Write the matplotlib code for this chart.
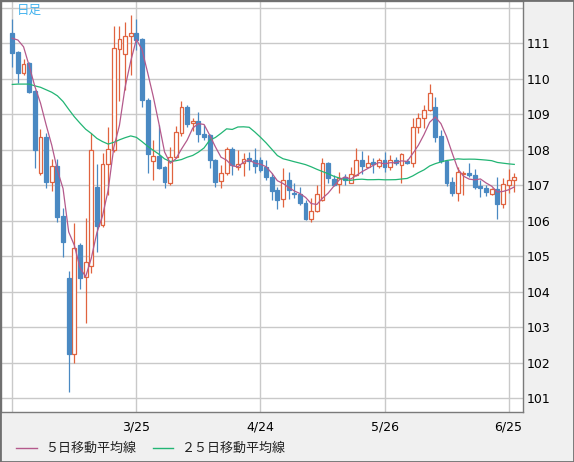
import matplotlib
matplotlib.use("Agg")
import matplotlib.pyplot as plt
import numpy as np
import pandas as pd
from matplotlib.lines import Line2D
from matplotlib.patches import Rectangle

# ---- data (daily candles, 2/24 .. 6/26) ----
opens = [111.28, 110.74, 110.17, 110.44, 109.66, 107.34, 108.37, 107.10, 107.54, 106.14,
         104.39, 102.26, 105.32, 104.41, 104.73, 106.95, 105.88, 107.60, 107.99, 110.83,
         110.69, 111.21, 111.28, 111.11, 109.40, 107.69, 107.83, 107.51, 107.06, 107.81,
         108.46, 109.20, 108.74, 108.81, 108.44, 108.42, 107.71, 107.13, 107.34, 108.01,
         107.52, 107.64, 107.76, 107.71, 107.70, 107.52, 107.23, 106.87, 106.61, 107.15,
         106.77, 106.75, 106.49, 106.04, 106.28, 106.59, 107.64, 107.17, 107.04, 107.23,
         107.07, 107.29, 107.71, 107.52, 107.66, 107.54, 107.71, 107.51, 107.71, 107.57,
         107.69, 107.62, 108.63, 108.89, 109.12, 109.20, 108.39, 107.69, 107.10, 106.79,
         107.31, 107.35, 107.28, 106.98, 106.92, 106.75, 106.90, 106.46, 107.01, 107.15]
highs = [111.68, 110.78, 110.55, 110.46, 109.68, 108.59, 108.46, 107.73, 107.73, 106.35,
         104.59, 105.93, 105.37, 106.07, 108.46, 107.60, 107.90, 108.65, 111.49, 111.49,
         111.61, 111.80, 111.68, 111.15, 109.45, 108.28, 108.70, 107.55, 108.09, 108.67,
         109.38, 109.26, 108.90, 109.07, 108.70, 108.45, 107.75, 107.57, 108.09, 108.07,
         107.99, 107.90, 107.95, 108.06, 107.80, 107.71, 107.34, 106.96, 107.48, 107.38,
         107.06, 106.96, 106.59, 106.63, 107.01, 107.76, 107.66, 107.29, 107.37, 107.31,
         107.51, 108.06, 107.97, 107.85, 107.76, 107.76, 107.95, 107.85, 107.80, 107.90,
         107.75, 108.89, 109.03, 109.26, 109.85, 109.50, 108.56, 107.72, 107.24, 107.52,
         107.40, 107.62, 107.45, 107.15, 107.01, 106.92, 107.24, 107.20, 107.46, 107.35]
lows = [110.34, 109.89, 110.11, 109.61, 107.50, 107.30, 106.93, 106.84, 105.97, 104.99,
        101.19, 102.00, 104.09, 103.11, 104.52, 105.13, 105.83, 106.73, 107.95, 109.36,
        109.68, 110.11, 110.81, 109.20, 107.34, 107.15, 107.45, 106.92, 107.00, 107.78,
        108.40, 108.65, 108.52, 108.23, 108.28, 107.50, 106.96, 106.92, 107.30, 107.29,
        107.43, 107.27, 107.43, 107.34, 107.38, 107.15, 106.59, 106.32, 106.40, 106.61,
        106.63, 106.45, 106.02, 105.97, 106.25, 106.55, 107.06, 106.98, 106.77, 107.01,
        107.06, 107.27, 107.32, 107.51, 107.34, 107.50, 107.38, 107.43, 107.57, 107.07,
        107.60, 107.51, 108.46, 108.62, 109.10, 108.23, 107.62, 106.98, 106.70, 106.57,
        106.73, 107.24, 106.89, 106.66, 106.70, 106.72, 106.05, 106.35, 106.79, 106.82]
closes = [110.72, 110.17, 110.41, 109.64, 107.99, 108.37, 107.10, 107.54, 106.12, 105.41,
          102.26, 105.22, 104.40, 104.83, 108.00, 105.86, 107.60, 108.01, 110.86, 111.11,
          111.21, 111.28, 111.09, 109.40, 107.88, 107.83, 107.48, 107.10, 107.81, 108.50,
          109.21, 108.73, 108.81, 108.44, 108.37, 107.71, 107.10, 107.34, 108.01, 107.57,
          107.59, 107.73, 107.68, 107.54, 107.43, 107.23, 106.85, 106.59, 107.15, 106.87,
          106.74, 106.49, 106.04, 106.28, 106.75, 107.62, 107.20, 107.01, 107.20, 107.15,
          107.31, 107.71, 107.54, 107.64, 107.60, 107.71, 107.52, 107.71, 107.62, 107.88,
          107.62, 108.63, 108.89, 109.12, 109.61, 108.37, 107.69, 107.07, 106.79, 107.38,
          107.35, 107.28, 106.96, 106.92, 106.82, 106.89, 106.46, 107.04, 107.15, 107.22]

ma5_head = [111.14, 111.09, 110.90, 110.36]
ma25_head = [109.84, 109.85, 109.85, 109.85, 109.80, 109.76, 109.69, 109.62, 109.52, 109.36,
             109.14, 108.93, 108.75, 108.58, 108.46, 108.32, 108.23, 108.16, 108.21, 108.28,
             108.34, 108.39, 108.35, 108.23]

tick_pos = [0, 22, 44, 66, 88]
tick_labels = ["", "3/25", "4/24", "5/26", "6/25"]
y_ticks = list(range(101, 113))
legend_labels = ["５日移動平均線", "２５日移動平均線"]
title_text = "日足"

# ---- styles ----
UP = "#e0633f"
DOWN = "#4a89c2"
MA5_C = "#b45a8c"
MA25_C = "#22b574"
GRID = "#c9c9c9"

W, H = 574, 462
fig = plt.figure(figsize=(W / 100, H / 100), dpi=100, facecolor="#f0f0f0")
ax = fig.add_axes([1 / W, 1 - 412 / H, 522 / W, 411 / H])
ax.set_facecolor("white")

n = len(closes)
x = np.arange(n)
o = np.array(opens); c = np.array(closes); hi = np.array(highs); lo = np.array(lows)
up = c >= o

# wicks
ax.vlines(x, lo, hi, colors=[UP if u else DOWN for u in up], linewidth=0.9, zorder=2)
# bodies
bottoms = np.minimum(o, c)
heights = np.maximum(np.abs(c - o), 0.03)
ax.bar(x[up], heights[up], bottom=bottoms[up], width=0.68, facecolor="white",
       edgecolor=UP, linewidth=0.9, zorder=3)
ax.bar(x[~up], heights[~up], bottom=bottoms[~up], width=0.68, facecolor=DOWN,
       edgecolor=DOWN, linewidth=0.9, zorder=3)

# moving averages
cs = pd.Series(closes)
ma5 = cs.rolling(5).mean().to_numpy()
ma5[:len(ma5_head)] = ma5_head
ma25 = cs.rolling(25).mean().to_numpy()
ma25[:len(ma25_head)] = ma25_head
ax.plot(x, ma25, color=MA25_C, linewidth=0.9, zorder=4)
ax.plot(x, ma5, color=MA5_C, linewidth=0.9, zorder=4)

# axes
ax.set_xlim(-2.0, 90.55)
ax.set_ylim(100.614, 112.19)
ax.set_xticks(tick_pos)
ax.set_xticklabels(tick_labels)
ax.set_yticks(y_ticks)
ax.set_yticklabels([str(v) if v <= 111 else "" for v in y_ticks])
ax.yaxis.tick_right()
ax.tick_params(axis="y", length=0, pad=3, labelsize=9, colors="black")
ax.tick_params(axis="x", length=0, pad=6, labelsize=9, colors="black")
ax.grid(True, color=GRID, linewidth=1.0)
ax.set_axisbelow(True)
for s in ax.spines.values():
    s.set_color("#7a7a7a")
    s.set_linewidth(1.0)

# title
fig.text(16.5 / W, 1 - 10.0 / H, title_text, color="#45b3ee", fontsize=9,
         family=["Noto Sans CJK JP", "DejaVu Sans"], va="center", ha="left")

# legend
ly = 1 - 448 / H
fig.add_artist(Line2D([16 / W, 37 / W], [ly, ly], color=MA5_C, linewidth=1.0))
fig.text(45 / W, ly, legend_labels[0], fontsize=9.4, va="center", ha="left",
         family=["Noto Sans CJK JP", "DejaVu Sans"], color="#222222")
fig.add_artist(Line2D([153 / W, 173 / W], [ly, ly], color=MA25_C, linewidth=1.0))
fig.text(182 / W, ly, legend_labels[1], fontsize=9.4, va="center", ha="left",
         family=["Noto Sans CJK JP", "DejaVu Sans"], color="#222222")

# outer border
fig.add_artist(Rectangle((0, 0), 1, 1, transform=fig.transFigure, fill=False,
                         edgecolor="#707070", linewidth=2.0))

fig.savefig("out.png", dpi=100, facecolor=fig.get_facecolor())
